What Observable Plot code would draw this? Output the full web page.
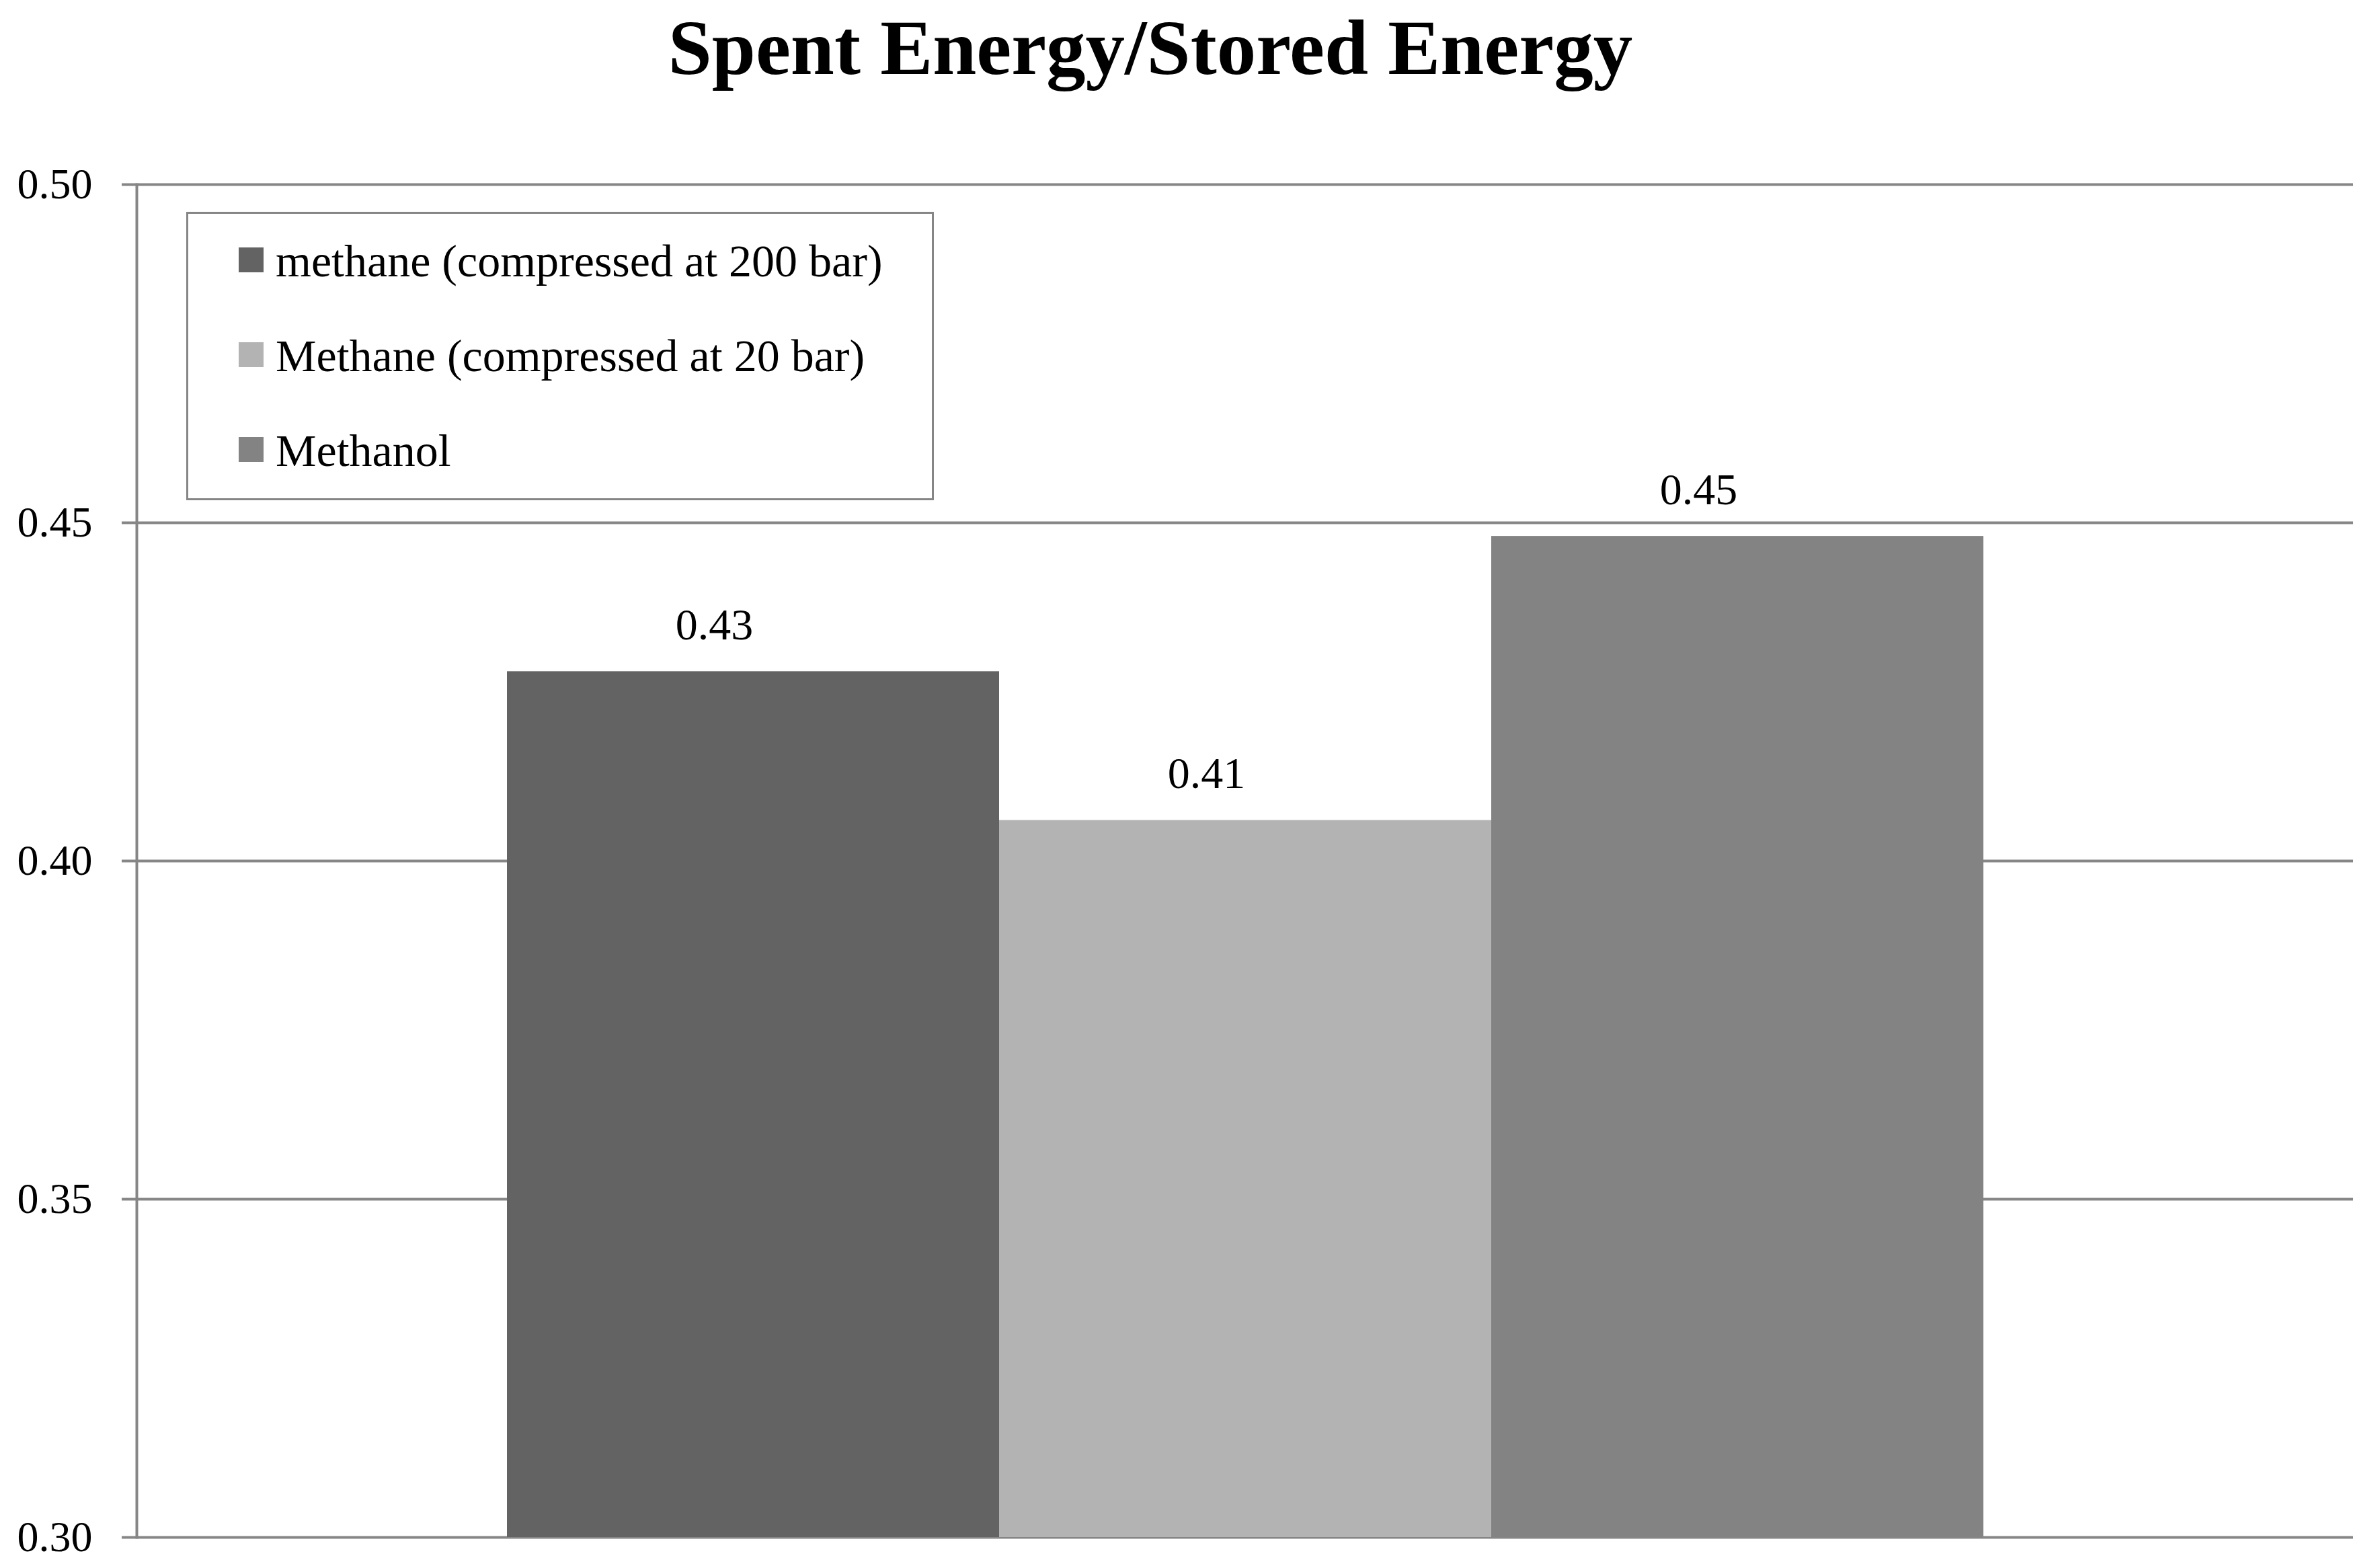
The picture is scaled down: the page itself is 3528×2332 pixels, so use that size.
<!DOCTYPE html>
<html>
<head>
<meta charset="utf-8">
<script src="https://cdn.jsdelivr.net/npm/d3@7"></script>
<script src="https://cdn.jsdelivr.net/npm/@observablehq/plot@0.6"></script>
<style>
  html, body { margin: 0; padding: 0; background: #fff; }
  #wrap { position: relative; width: 3528px; height: 2332px; font-family: "Liberation Serif", serif; }
  #title { position: absolute; left: 0; top: 12px; width: 3422px; text-align: center;
           font-size: 117px; line-height: 117px; font-weight: bold; color: #000; }
  #head { height: 200px; }
  #legend { position: absolute; left: 277px; top: 315px; width: 1106px; border: 3px solid #868686;
            background: #fff; }
  .row { height: 141px; display: flex; align-items: center; padding-left: 75px; font-size: 68px; color: #000; }
  .sw { width: 37px; height: 37px; margin-right: 18px; flex: none; position: relative; top: -2px; }
  svg { display: block; }
</style>
</head>
<body>
<div id="wrap">
  <div id="head"></div>
  <div id="title"></div>
  <div id="chart"></div>
  <div id="legend"></div>
</div>
<script>
const title = "Spent Energy/Stored Energy";
const series = ["methane (compressed at 200 bar)", "Methane (compressed at 20 bar)", "Methanol"];
const values = [0.428, 0.406, 0.448];
const colors = ["#636363", "#b3b3b3", "#838383"];
const yTicks = [0.30, 0.35, 0.40, 0.45, 0.50];
const yMin = 0.30, yMax = 0.50;

const data = series.map((s, i) => ({series: s, value: values[i]}));
const fmt = d3.format(".2f");

document.getElementById("title").textContent = title;

const legend = document.getElementById("legend");
series.forEach((s, i) => {
  const row = document.createElement("div");
  row.className = "row";
  const sw = document.createElement("div");
  sw.className = "sw";
  sw.style.background = colors[i];
  const t = document.createElement("span");
  t.textContent = s;
  row.appendChild(sw);
  row.appendChild(t);
  legend.appendChild(row);
});

const chart = Plot.plot({
  width: 3528,
  height: 2132,
  marginTop: 74,
  marginBottom: 46,
  marginLeft: 203,
  marginRight: 28,
  style: {fontFamily: "Liberation Serif", background: "white", overflow: "visible"},
  x: {domain: series, paddingInner: 0, paddingOuter: 0.75, axis: null},
  y: {domain: [yMin, yMax], axis: null},
  color: {domain: series, range: colors},
  marks: [
    Plot.gridY(yTicks, {stroke: "#868686", strokeOpacity: 1, strokeWidth: 4}),
    Plot.axisY(yTicks, {tickSize: 22, tickPadding: 44, tickFormat: fmt, fontSize: 64, label: null,
                        stroke: "#868686", strokeWidth: 4, fill: "#000"}),
    Plot.frame({anchor: "left", stroke: "#868686", strokeWidth: 4}),
    Plot.barY(data, {x: "series", y1: () => yMin, y2: "value", fill: "series"}),
    Plot.text(data, {x: "series", y: "value", text: d => fmt(d.value), dy: -48, dx: -58,
                     lineAnchor: "bottom", fontSize: 66, fill: "#000"})
  ]
});
document.getElementById("chart").appendChild(chart);
</script>
</body>
</html>
